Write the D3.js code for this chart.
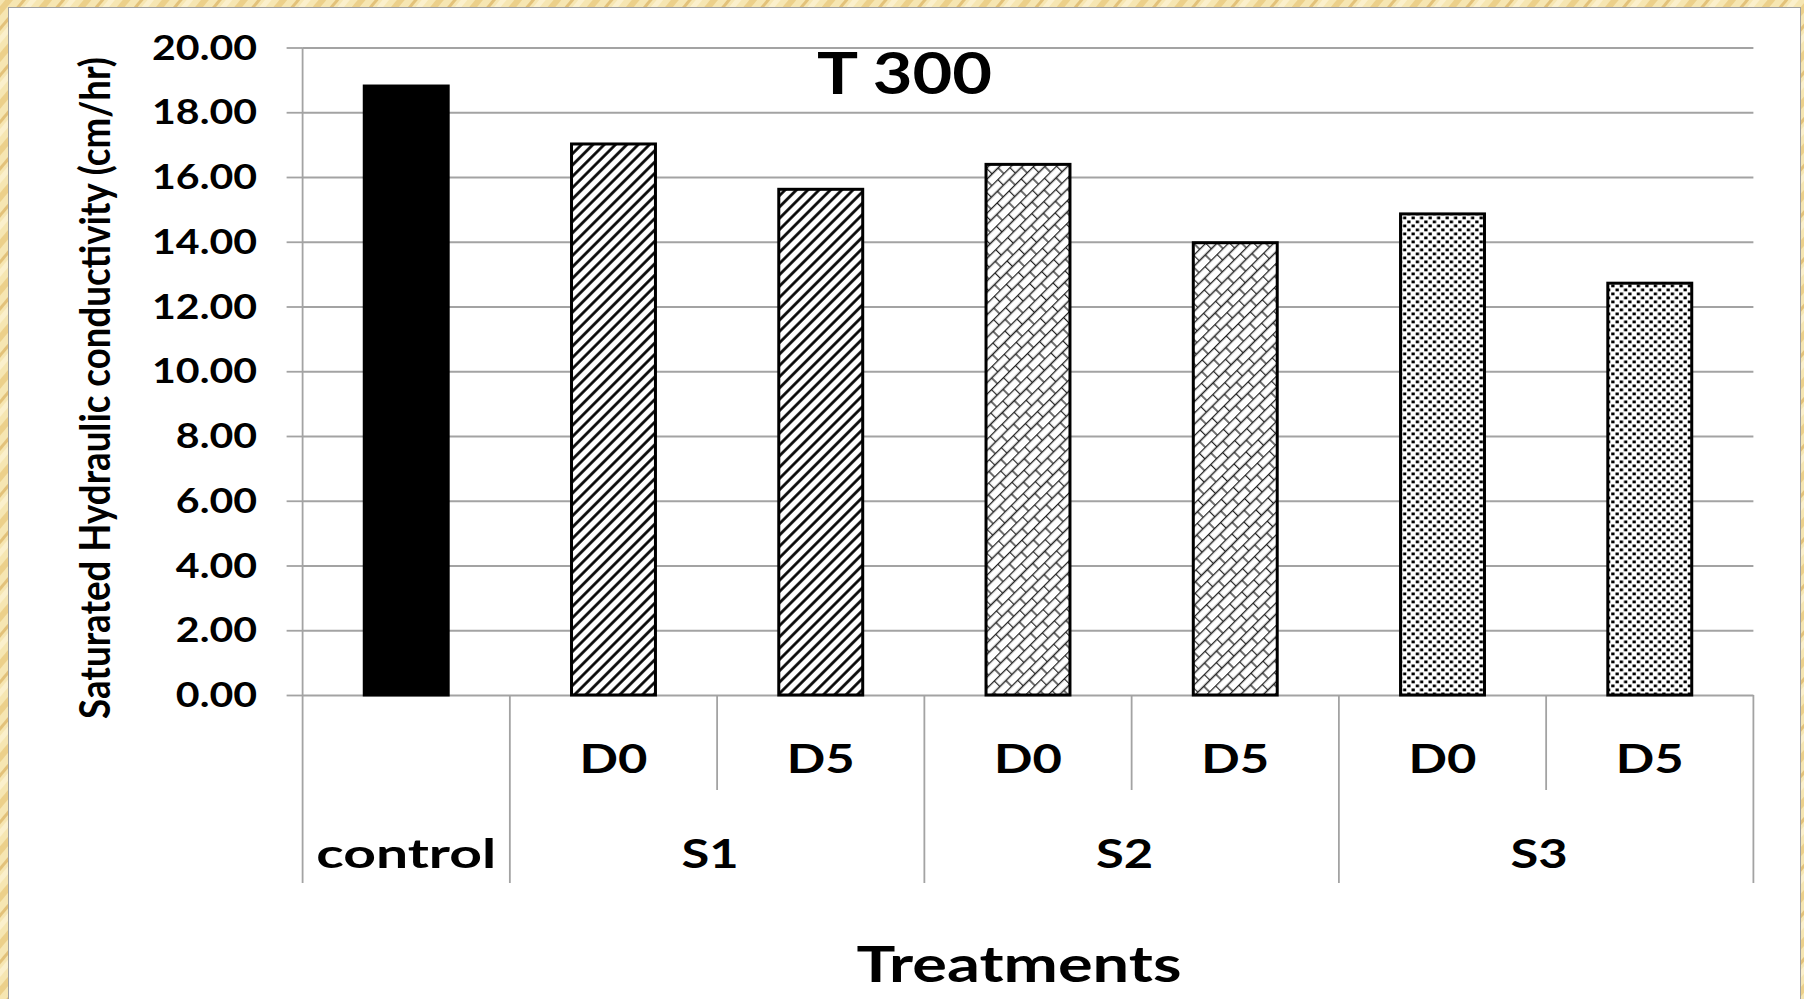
<!DOCTYPE html>
<html>
<head>
<meta charset="utf-8">
<script src="https://cdn.jsdelivr.net/npm/d3@7"></script>
<style>
  body { margin: 0; background: #f3dea0; overflow: hidden; }
  svg text { font-family: Lato, "Open Sans", sans-serif; font-weight: bold; fill: #000; }
</style>
</head>
<body>
<svg id="chart"></svg>
<script>
// Data
const groups = ["control", "S1", "S1", "S2", "S2", "S3", "S3"];
const doses = ["", "D0", "D5", "D0", "D5", "D0", "D5"];
const values = [18.81, 17.02, 15.62, 16.39, 13.97, 14.86, 12.72];
const yTicks = [0, 2, 4, 6, 8, 10, 12, 14, 16, 18, 20];
const title = "T 300";
const xTitle = "Treatments";
const yTitle = "Saturated Hydraulic conductivity (cm/hr)";

const W = 1804, H = 999;
const plot = { left: 302.6, right: 1753.4, top: 47.5, bottom: 695 };

// fill per group
const fillFor = { control: "#000", S1: "url(#stripe)", S2: "url(#brick)", S3: "url(#dots)" };

const svg = d3.select("#chart").attr("width", W).attr("height", H);
const defs = svg.append("defs");

// parchment border texture
const parch = defs.append("pattern")
    .attr("id", "parch")
    .attr("patternUnits", "userSpaceOnUse")
    .attr("width", 30).attr("height", 30)
    .attr("patternTransform", "rotate(40)");
parch.append("rect").attr("width", 30).attr("height", 30).attr("fill", "#f6e6b2");
parch.append("rect").attr("x", 4).attr("width", 6).attr("height", 30).attr("fill", "#ecd08a");
parch.append("rect").attr("x", 17).attr("width", 3).attr("height", 30).attr("fill", "#e3c27a");
parch.append("rect").attr("x", 23).attr("width", 5).attr("height", 30).attr("fill", "#fbf0cc");

// S1: wide upward diagonal
const stripe = defs.append("pattern")
    .attr("id", "stripe")
    .attr("patternUnits", "userSpaceOnUse")
    .attr("width", 8).attr("height", 8)
    .attr("patternTransform", "rotate(45)");
stripe.append("rect").attr("width", 8).attr("height", 8).attr("fill", "#fff");
stripe.append("line").attr("x1", 1.5).attr("x2", 1.5).attr("y1", 0).attr("y2", 8)
    .attr("stroke", "#000").attr("stroke-width", 2.7);

// S2: diagonal brick
const brick = defs.append("pattern")
    .attr("id", "brick")
    .attr("patternUnits", "userSpaceOnUse")
    .attr("width", 17).attr("height", 16)
    .attr("patternTransform", "rotate(-45)");
brick.append("rect").attr("width", 17).attr("height", 16).attr("fill", "#fff");
brick.append("path")
    .attr("d", "M0,0.5H17M0,8.5H17M0.5,0.5V8.5M9,8.5V16")
    .attr("stroke", "#222").attr("stroke-width", 1.3).attr("fill", "none");

// S3: small dots
const dots = defs.append("pattern")
    .attr("id", "dots")
    .attr("patternUnits", "userSpaceOnUse")
    .attr("width", 8.5).attr("height", 8);
dots.append("rect").attr("width", 8.5).attr("height", 8).attr("fill", "#fff");
dots.append("rect").attr("x", 0.5).attr("y", 0.5).attr("width", 3.3).attr("height", 2.8).attr("fill", "#000");
dots.append("rect").attr("x", 4.75).attr("y", 4.5).attr("width", 3.3).attr("height", 2.8).attr("fill", "#000");

// background + white panel
svg.append("rect").attr("width", W).attr("height", H).attr("fill", "url(#parch)");
svg.append("rect")
    .attr("x", 8.5).attr("y", 7.5).attr("width", 1792).attr("height", 1000)
    .attr("fill", "#fff").attr("stroke", "#a0a0a0").attr("stroke-width", 1);

// scales
const idx = d3.range(values.length);
const slot = d3.scaleBand().domain(idx).range([plot.left, plot.right]);
const x = d3.scaleBand().domain(idx).range([plot.left, plot.right])
    .paddingInner(0.595).paddingOuter(0.2975);
const y = d3.scaleLinear().domain([0, 20]).range([plot.bottom, plot.top]);

// grid + ticks
const gridColor = "#a3a3a3";
svg.append("g")
    .attr("transform", `translate(${plot.left},0)`)
    .call(d3.axisLeft(y).tickValues(yTicks).tickSize(16).tickSizeOuter(0).tickFormat(""))
    .call(g => g.selectAll("line").attr("stroke", gridColor).attr("stroke-width", 1.8))
    .call(g => g.select(".domain").remove());
svg.append("g")
    .attr("transform", `translate(${plot.left},0)`)
    .call(d3.axisRight(y).tickValues(yTicks).tickSize(plot.right - plot.left).tickFormat(""))
    .call(g => g.selectAll("line").attr("stroke", gridColor).attr("stroke-width", 1.8))
    .call(g => g.select(".domain").remove());

// category dividers below the baseline
const dividerX = d3.range(values.length + 1).map(i => plot.left + i * slot.step());
svg.append("g").selectAll("line")
    .data(dividerX)
    .join("line")
    .attr("x1", d => d).attr("x2", d => d)
    .attr("y1", (d, i) => i === 0 ? plot.top : plot.bottom)
    .attr("y2", (d, i) => (i === 0 || i === values.length || groups[i] !== groups[i - 1]) ? 883 : 790)
    .attr("stroke", gridColor).attr("stroke-width", 1.8);

// bars
svg.append("g").selectAll("rect")
    .data(values)
    .join("rect")
    .attr("x", (d, i) => x(i))
    .attr("width", x.bandwidth())
    .attr("y", d => y(d))
    .attr("height", d => y(0) - y(d))
    .attr("fill", (d, i) => fillFor[groups[i]])
    .attr("stroke", "#000")
    .attr("stroke-width", 3);

// text helpers: the source chart is stretched horizontally
function measure(str, size) {
    const t = svg.append("text").style("font-size", size + "px").text(str);
    const w = t.node().getComputedTextLength();
    t.remove();
    return w;
}
function addText(str, px, py, size, sx, anchor) {
    return svg.append("text")
        .attr("transform", `translate(${px},${py}) scale(${sx},1)`)
        .attr("text-anchor", anchor || "middle")
        .style("font-size", size + "px")
        .text(str);
}

const tickSize = 33.5, catSize = 41, titleSize = 57, xTitleSize = 49;
const tickSx = 105 / measure("16.00", tickSize);
const catSx = 68 / measure("D0", catSize);
const titleSx = 175 / measure(title, titleSize);
const xTitleSx = 325 / measure(xTitle, xTitleSize);

yTicks.forEach(v => addText(d3.format(".2f")(v), 257, y(v) + 12, tickSize, tickSx, "end"));

// dose labels
idx.forEach(i => {
    if (doses[i]) addText(doses[i], slot(i) + slot.bandwidth() / 2, 773, catSize, catSx);
});

// group labels centred on their span
const groupNames = Array.from(new Set(groups));
groupNames.forEach(gname => {
    const members = idx.filter(i => groups[i] === gname);
    const cx = (slot(members[0]) + slot(members[members.length - 1]) + slot.bandwidth()) / 2;
    const sx = members.length > 1 ? catSx : 180 / measure(gname, catSize);
    addText(gname, members.length > 1 ? cx - 7 : cx, 868, catSize, sx);
});

// titles
addText(title, 904.5, 94, titleSize, titleSx);
addText(xTitle, 1019, 982, xTitleSize, xTitleSx);

const ySize = 33;
const yLen = measure(yTitle, ySize);
svg.append("text")
    .attr("transform", `translate(110,388) rotate(-90) scale(${662 / yLen},1.25)`)
    .attr("text-anchor", "middle")
    .style("font-size", ySize + "px")
    .text(yTitle);
</script>
</body>
</html>
